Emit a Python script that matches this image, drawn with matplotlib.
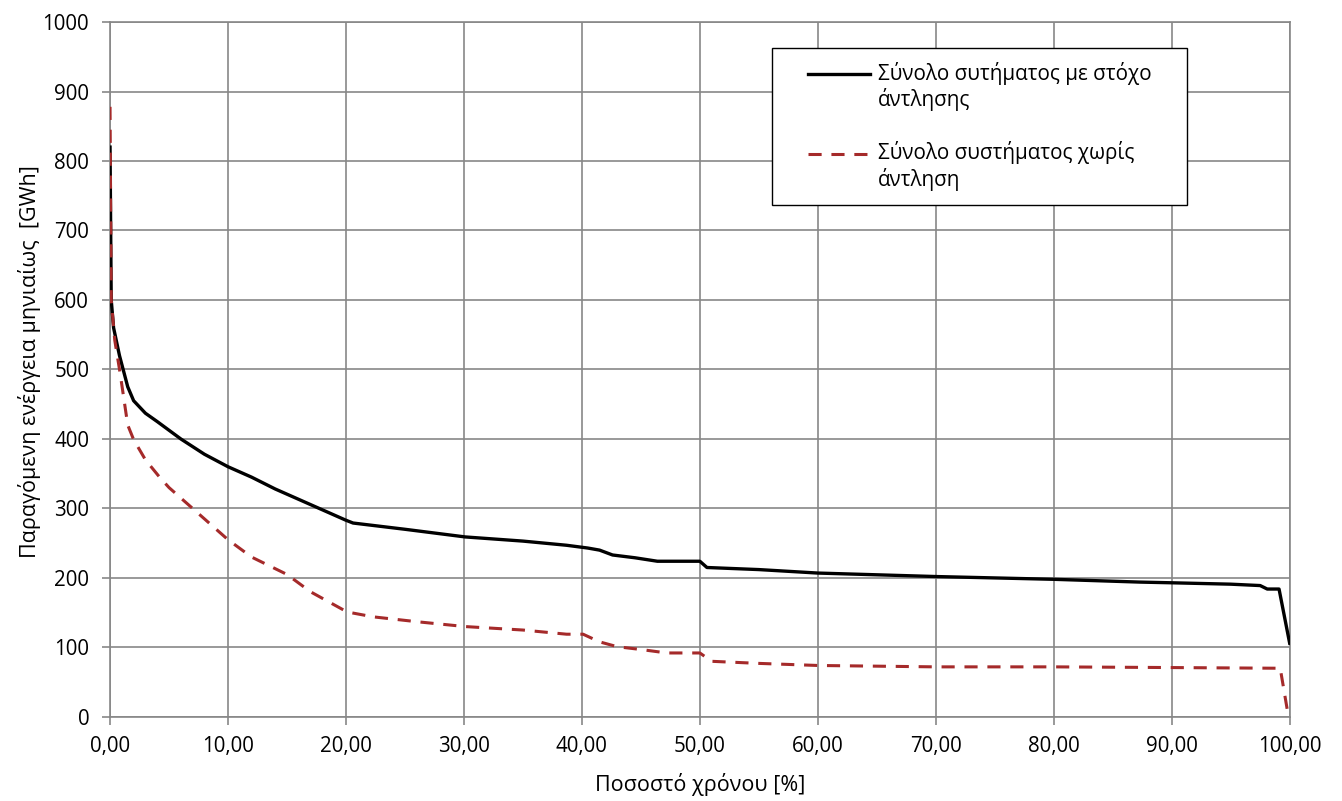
import matplotlib
matplotlib.use("Agg")
import matplotlib.pyplot as plt
from matplotlib.ticker import FuncFormatter, MultipleLocator
from matplotlib.legend_handler import HandlerLine2D
from matplotlib.patches import Rectangle

plt.rcParams['font.family'] = ['Open Sans', 'DejaVu Sans']

# Series 1: Σύνολο συτήματος με στόχο άντλησης
x_pump = [0.0, 0.1, 0.3, 0.8, 1.5, 2.0, 3.0, 4.0, 6.0, 8.0, 10.0, 12.0, 14.0, 16.0,
          18.0, 20.0, 20.6, 25.0, 30.1, 35.0, 38.7, 40.5, 41.5, 42.6, 44.5, 46.4,
          50.0, 50.6, 55.0, 60.0, 70.0, 80.0, 87.3, 90.0, 95.0, 97.5, 98.1, 99.1, 100.0]
y_pump = [820, 600, 560, 520, 475, 455, 437, 425, 400, 378, 360, 345, 328, 313,
          298, 283, 279, 270, 259, 253, 247, 243, 240, 233, 229, 224,
          224, 215, 212, 207, 202, 198, 194, 193, 191, 189, 184, 184, 106]

# Series 2: Σύνολο συστήματος χωρίς άντληση
x_nopump = [0.0, 0.1, 0.4, 0.85, 1.5, 2.0, 3.0, 4.2, 5.0, 7.0, 10.0, 12.0, 15.0,
            17.0, 20.1, 22.3, 26.0, 30.1, 35.0, 38.7, 40.1, 41.5, 43.0, 45.0, 47.2,
            50.0, 51.0, 55.0, 60.0, 70.0, 80.0, 90.0, 99.2, 99.9]
y_nopump = [878, 600, 542, 495, 420, 399, 370, 345, 330, 300, 255, 230, 205,
            180, 151, 144, 137, 130, 125, 119, 119, 108, 101, 97, 92,
            92, 80, 77, 74, 72, 72, 71, 70, 0]

label_pump = "Σύνολο συτήματος με στόχο\nάντλησης"
label_nopump = "Σύνολο συστήματος χωρίς\nάντληση"


class TopLineHandler(HandlerLine2D):
    """Place the legend sample next to the first line of a two-line label."""
    def __init__(self, shift, **kw):
        super().__init__(**kw)
        self.shift = shift

    def create_artists(self, legend, orig_handle, xdescent, ydescent, width,
                       height, fontsize, trans):
        arts = super().create_artists(legend, orig_handle, xdescent, ydescent,
                                      width, height, fontsize, trans)
        for a in arts:
            a.set_ydata([y + self.shift for y in a.get_ydata()])
        return arts


fig = plt.figure(figsize=(13.42, 8.01), dpi=100)
ax = fig.add_axes([0.082, 0.105, 0.879, 0.8675])

l1, = ax.plot(x_pump, y_pump, color='black', lw=2.4, label=label_pump, zorder=3)
l2, = ax.plot(x_nopump, y_nopump, color='#A52A2A', lw=2.2, dashes=(4.3, 3.2),
              label=label_nopump, zorder=3)

ax.set_xlim(0, 100)
ax.set_ylim(0, 1000)
ax.xaxis.set_major_locator(MultipleLocator(10))
ax.yaxis.set_major_locator(MultipleLocator(100))
ax.xaxis.set_major_formatter(FuncFormatter(lambda v, p: f"{v:.2f}".replace('.', ',')))
ax.yaxis.set_major_formatter(FuncFormatter(lambda v, p: f"{int(v)}"))

ax.grid(True, color='#878787', lw=1.2)
ax.set_axisbelow(True)
for s in ax.spines.values():
    s.set_color('#878787')
    s.set_linewidth(1.2)
ax.tick_params(axis='both', labelsize=14.8, color='#878787', length=6, width=1.2,
               direction='out')
ax.tick_params(axis='x', pad=8)
ax.tick_params(axis='y', pad=9)

ax.set_xlabel("Ποσοστό χρόνου [%]", fontsize=15.5, va='center')
ax.xaxis.set_label_coords(0.5, -0.097)
ax.set_ylabel("Παραγόμενη ενέργεια μηνιαίως  [GWh]", fontsize=15.5, va='center')
ax.yaxis.set_label_coords(-0.068, 0.512)

# legend frame
frame = Rectangle((0.561, 0.737), 0.352, 0.226, transform=ax.transAxes,
                  facecolor='white', edgecolor='black', lw=1.0, zorder=4)
ax.add_patch(frame)

shift = 9.5
leg = ax.legend(handles=[l1, l2], loc='upper left', bbox_to_anchor=(0.5915, 0.943),
                fontsize=14.9, frameon=False, handlelength=3.0, borderpad=0.0,
                labelspacing=1.45, borderaxespad=0, handletextpad=0.39,
                handler_map={l1: TopLineHandler(shift), l2: TopLineHandler(shift)})
leg.set_zorder(5)

fig.savefig("out.png", dpi=100, facecolor='white')
